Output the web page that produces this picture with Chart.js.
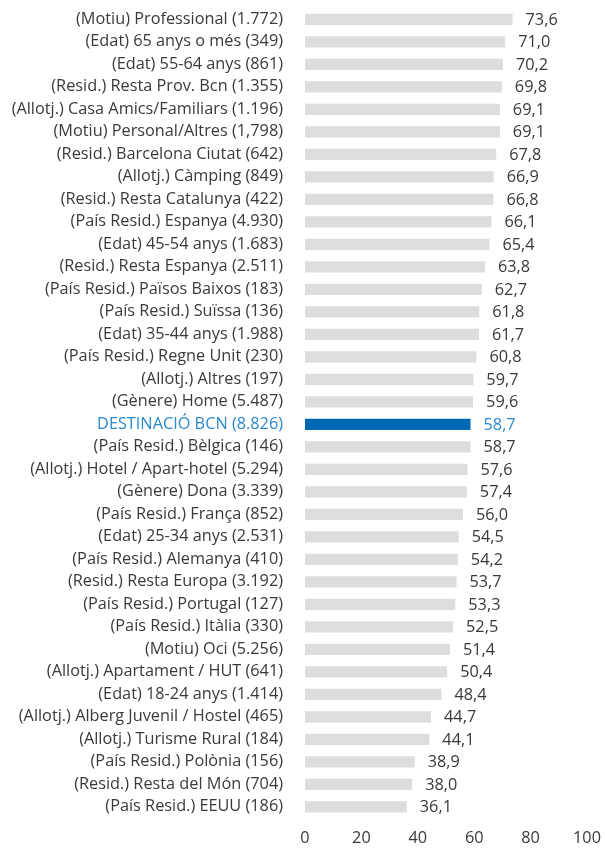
<!DOCTYPE html>
<html lang="ca">
<head>
    <meta charset="UTF-8">
    <title>Índex per segments</title>
    <script src="https://cdn.jsdelivr.net/npm/chart.js"></script>
    <style>
        body { margin: 0; background: #ffffff; }
        .chart-box { width: 605px; height: 850px; position: relative; }
    </style>
</head>
<body>
    <div class="chart-box">
        <canvas id="grafic"></canvas>
    </div>

    <script>
        // categories (de dalt a baix)
        const categories = [
            "(Motiu) Professional (1.772)",
            "(Edat) 65 anys o més (349)",
            "(Edat) 55-64 anys (861)",
            "(Resid.) Resta Prov. Bcn (1.355)",
            "(Allotj.) Casa Amics/Familiars (1.196)",
            "(Motiu) Personal/Altres (1,798)",
            "(Resid.) Barcelona Ciutat (642)",
            "(Allotj.) Càmping (849)",
            "(Resid.) Resta Catalunya (422)",
            "(País Resid.) Espanya (4.930)",
            "(Edat) 45-54 anys (1.683)",
            "(Resid.) Resta Espanya (2.511)",
            "(País Resid.) Països Baixos (183)",
            "(País Resid.) Suïssa (136)",
            "(Edat) 35-44 anys (1.988)",
            "(País Resid.) Regne Unit (230)",
            "(Allotj.) Altres (197)",
            "(Gènere) Home (5.487)",
            "DESTINACIÓ BCN (8.826)",
            "(País Resid.) Bèlgica (146)",
            "(Allotj.) Hotel / Apart-hotel (5.294)",
            "(Gènere) Dona (3.339)",
            "(País Resid.) França (852)",
            "(Edat) 25-34 anys (2.531)",
            "(País Resid.) Alemanya (410)",
            "(Resid.) Resta Europa (3.192)",
            "(País Resid.) Portugal (127)",
            "(País Resid.) Itàlia (330)",
            "(Motiu) Oci (5.256)",
            "(Allotj.) Apartament / HUT (641)",
            "(Edat) 18-24 anys (1.414)",
            "(Allotj.) Alberg Juvenil / Hostel (465)",
            "(Allotj.) Turisme Rural (184)",
            "(País Resid.) Polònia (156)",
            "(Resid.) Resta del Món (704)",
            "(País Resid.) EEUU (186)"
        ];

        const valors = [
            73.6, 71.0, 70.2, 69.8, 69.1, 69.1, 67.8, 66.9, 66.8, 66.1,
            65.4, 63.8, 62.7, 61.8, 61.7, 60.8, 59.7, 59.6, 58.7, 58.7,
            57.6, 57.4, 56.0, 54.5, 54.2, 53.7, 53.3, 52.5, 51.4, 50.4,
            48.4, 44.7, 44.1, 38.9, 38.0, 36.1
        ];

        const ticksX = [0, 20, 40, 60, 80, 100];
        const categoriaDestacada = "DESTINACIÓ BCN (8.826)";

        const FONT = "'Open Sans', sans-serif";
        const MIDA = 16.3;
        const GRIS_TEXT = '#3a3a3a';
        const BLAU_BARRA = '#0068B4';
        const BLAU_TEXT = '#2A8ACC';
        const GRIS_BARRA = '#DCDDDF';

        const colorsBarres = categories.map(c => c === categoriaDestacada ? BLAU_BARRA : GRIS_BARRA);

        // etiquetes de valor a la dreta de cada barra
        const etiquetesValor = {
            id: 'etiquetesValor',
            afterDatasetsDraw(chart) {
                const ctx = chart.ctx;
                const meta = chart.getDatasetMeta(0);
                ctx.save();
                ctx.font = MIDA + 'px ' + FONT;
                ctx.textAlign = 'left';
                ctx.textBaseline = 'middle';
                meta.data.forEach((bar, i) => {
                    ctx.fillStyle = categories[i] === categoriaDestacada ? BLAU_TEXT : GRIS_TEXT;
                    const txt = valors[i].toFixed(1).replace('.', ',');
                    ctx.fillText(txt, bar.x + 13, bar.y + 1);
                });
                ctx.restore();
            }
        };

        new Chart(document.getElementById('grafic'), {
            type: 'bar',
            data: {
                labels: categories,
                datasets: [{
                    data: valors,
                    backgroundColor: colorsBarres,
                    borderWidth: 0,
                    barPercentage: 0.5,
                    categoryPercentage: 1.0
                }]
            },
            options: {
                indexAxis: 'y',
                responsive: true,
                maintainAspectRatio: false,
                animation: false,
                layout: { padding: { top: 8, right: 18, bottom: 0, left: 0 } },
                plugins: {
                    legend: { display: false },
                    tooltip: { enabled: false }
                },
                scales: {
                    x: {
                        min: 0,
                        max: 100,
                        afterBuildTicks: (scale) => { scale.ticks = ticksX.map(v => ({ value: v })); },
                        afterFit: (scale) => {
                            scale.height = 32;
                            scale.paddingLeft = 0;
                            scale.paddingRight = 0;
                        },
                        grid: { display: false, drawTicks: false },
                        border: { display: false },
                        ticks: {
                            padding: 11,
                            maxRotation: 0,
                            color: GRIS_TEXT,
                            font: { family: FONT, size: MIDA }
                        }
                    },
                    y: {
                        afterFit: (scale) => {
                            scale.width = 305;
                            scale.paddingTop = 0;
                            scale.paddingBottom = 0;
                        },
                        grid: { display: false, drawTicks: false },
                        border: { display: false },
                        ticks: {
                            padding: 22,
                            autoSkip: false,
                            color: (c) => categories[c.index] === categoriaDestacada ? BLAU_TEXT : GRIS_TEXT,
                            font: { family: FONT, size: MIDA }
                        }
                    }
                }
            },
            plugins: [etiquetesValor]
        });
    </script>
</body>
</html>
